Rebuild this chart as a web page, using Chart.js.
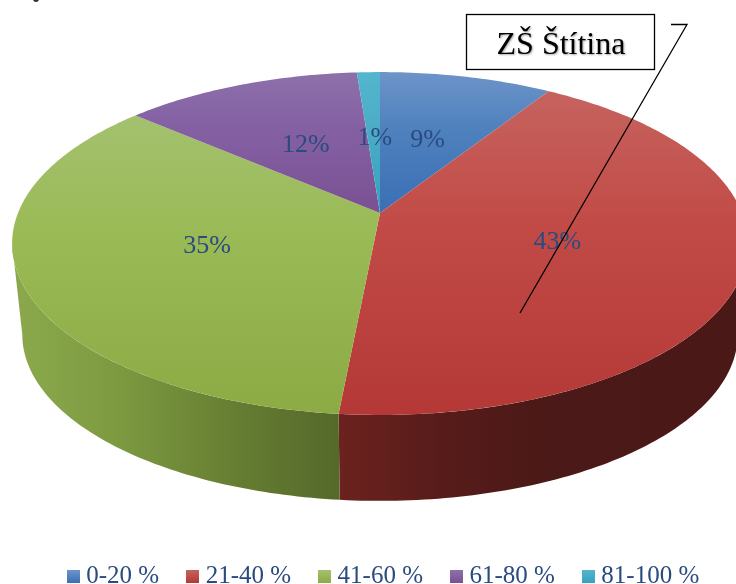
<!DOCTYPE html>
<html>
<head>
<meta charset="utf-8">
<style>
    html, body { margin: 0; padding: 0; background: #ffffff; overflow: hidden; }
    #box { width: 736px; height: 584px; }
</style>
</head>
<body>
<div id="box"><canvas id="pieChart"></canvas></div>
<script src="https://cdn.jsdelivr.net/npm/chart.js@4"></script>
<script>
    // Data
    const categories = ['0-20 %', '21-40 %', '41-60 %', '61-80 %', '81-100 %'];
    const shares = [9.0, 42.5, 34.9, 12.4, 1.2];
    const noteText = 'ZŠ Štítina';

    // Slice colours: top, middle and bottom of each face
    const faceTop = ['#6d94c9', '#c6635f', '#a4c16e', '#8d70aa', '#52b6cd'];
    const faceMid = ['#4f81bd', '#c24b47', '#9aba56', '#8460a3', '#4bacc6'];
    const faceBottom = ['#3a6fb5', '#b43936', '#8cab45', '#7a5193', '#35a3bf'];
    const textColor = '#2a4b7f';

    // Flattened circle with perspective: back rim is shorter than the front one
    const cx = 380, tilt = -0.178;
    const topRim = { a: 362, b: 166, y: 213 };
    const lowRim = { a: 352, b: 161, y: 305 };
    // rim is widest here, the wall outline leaves the rim at these angles
    const wallFrom = 10.25 * Math.PI / 180, wallTo = 169.75 * Math.PI / 180;

    function project(rim, angle, r) {
        const u = r * Math.cos(angle), v = r * Math.sin(angle);
        const d = 1 + tilt * v;
        return { x: cx + rim.a * u / d, y: rim.y + rim.b * v / d };
    }

    function rimPoints(rim, start, end) {
        const pts = [];
        const steps = Math.max(4, Math.ceil((end - start) * 60));
        for (let i = 0; i <= steps; i++) {
            pts.push(project(rim, start + (end - start) * i / steps, 1));
        }
        return pts;
    }

    function wallGradient(ctx, index) {
        if (index === 1) {
            const g = ctx.createLinearGradient(338, 0, 748, 0);
            g.addColorStop(0, '#6c221e');
            g.addColorStop(0.25, '#571c1a');
            g.addColorStop(0.5, '#4b1917');
            g.addColorStop(1, '#4a1917');
            return g;
        }
        const g = ctx.createLinearGradient(22, 0, 338, 0);
        g.addColorStop(0, '#8aa84b');
        g.addColorStop(0.3, '#7d9a41');
        g.addColorStop(0.7, '#647c31');
        g.addColorStop(1, '#55692a');
        return g;
    }

    // small square with the slice gradient, used as legend marker
    function legendMarker(i) {
        const c = document.createElement('canvas');
        c.width = 13;
        c.height = 13;
        const m = c.getContext('2d');
        const g = m.createLinearGradient(0, 0, 0, 13);
        g.addColorStop(0, faceTop[i]);
        g.addColorStop(1, faceBottom[i]);
        m.fillStyle = g;
        m.fillRect(0, 0, 13, 13);
        return c;
    }

    const pie3d = {
        id: 'pie3d',
        // arcs come from the pie controller, only the drawing is replaced
        beforeDatasetDraw(chart, args) {
            const ctx = chart.ctx;
            const arcs = args.meta.data;
            ctx.save();

            // side walls first, only the front part of the rim
            arcs.forEach(function (arc, i) {
                const start = Math.max(arc.startAngle, wallFrom);
                const end = Math.min(arc.endAngle, wallTo);
                if (end <= start) return;
                const upper = rimPoints(topRim, start, end);
                const lower = rimPoints(lowRim, start, end).reverse();
                ctx.beginPath();
                upper.concat(lower).forEach(function (p, n) {
                    if (n === 0) ctx.moveTo(p.x, p.y); else ctx.lineTo(p.x, p.y);
                });
                ctx.closePath();
                ctx.fillStyle = wallGradient(ctx, i);
                ctx.fill();
            });

            arcs.forEach(function (arc, i) {
                const pts = rimPoints(topRim, arc.startAngle, arc.endAngle);
                const apex = project(topRim, 0, 0);
                const ys = pts.map(function (p) { return p.y; }).concat(apex.y);
                const g = ctx.createLinearGradient(0, Math.min.apply(null, ys), 0, Math.max.apply(null, ys));
                g.addColorStop(0, faceTop[i]);
                g.addColorStop(0.4, faceMid[i]);
                g.addColorStop(1, faceBottom[i]);
                ctx.beginPath();
                ctx.moveTo(apex.x, apex.y);
                pts.forEach(function (p) { ctx.lineTo(p.x, p.y); });
                ctx.closePath();
                ctx.fillStyle = g;
                ctx.fill();
            });

            // percent labels halfway along each slice
            ctx.fillStyle = textColor;
            ctx.font = '26px "Liberation Serif"';
            ctx.textAlign = 'center';
            ctx.textBaseline = 'middle';
            arcs.forEach(function (arc, i) {
                const p = project(topRim, (arc.startAngle + arc.endAngle) / 2, 0.5);
                ctx.fillText(Math.round(shares[i]) + '%', p.x + 1, p.y + 1);
            });

            ctx.restore();
            return false;
        },
        afterDraw(chart) {
            const ctx = chart.ctx;
            ctx.save();

            // bit of cut-off text at the very top of the scan
            ctx.fillStyle = '#333333';
            ctx.beginPath();
            ctx.arc(36, -1, 3, 0, Math.PI * 2);
            ctx.fill();

            // pasted note with its leader line
            ctx.strokeStyle = '#000000';
            ctx.lineWidth = 1.3;
            ctx.beginPath();
            ctx.moveTo(671, 24.5);
            ctx.lineTo(687, 24.5);
            ctx.lineTo(520, 313);
            ctx.stroke();

            ctx.fillStyle = '#ffffff';
            ctx.fillRect(466, 14, 189, 56);
            ctx.strokeRect(466.5, 14.5, 188, 55);

            ctx.fillStyle = '#000000';
            ctx.font = '32px "Liberation Serif"';
            ctx.textAlign = 'center';
            ctx.textBaseline = 'middle';
            ctx.shadowColor = 'rgba(0,0,0,0.35)';
            ctx.shadowBlur = 2;
            ctx.shadowOffsetX = 1;
            ctx.shadowOffsetY = 1;
            ctx.fillText(noteText, 561, 46);

            ctx.restore();
        }
    };

    const dataPie = {
        labels: categories,
        datasets: [{
            data: shares,
            backgroundColor: faceMid,
            borderWidth: 0
        }]
    };

    const configPie = {
        type: 'pie',
        data: dataPie,
        plugins: [pie3d],
        options: {
            responsive: true,
            maintainAspectRatio: false,
            animation: false,
            layout: {
                padding: { left: 36, right: 0, top: 0, bottom: -15 }
            },
            plugins: {
                tooltip: { enabled: false },
                legend: {
                    display: true,
                    position: 'bottom',
                    labels: {
                        usePointStyle: true,
                        boxWidth: 1,
                        boxHeight: 13,
                        padding: 33,
                        color: textColor,
                        font: { family: '"Liberation Serif"', size: 25 },
                        generateLabels: function () {
                            return categories.map(function (text, i) {
                                return { text: text, fontColor: textColor, pointStyle: legendMarker(i), index: i };
                            });
                        }
                    }
                }
            }
        }
    };

    const ctxPie = document.getElementById('pieChart').getContext('2d');
    const graficoPie = new Chart(ctxPie, configPie);
</script>
</body>
</html>
